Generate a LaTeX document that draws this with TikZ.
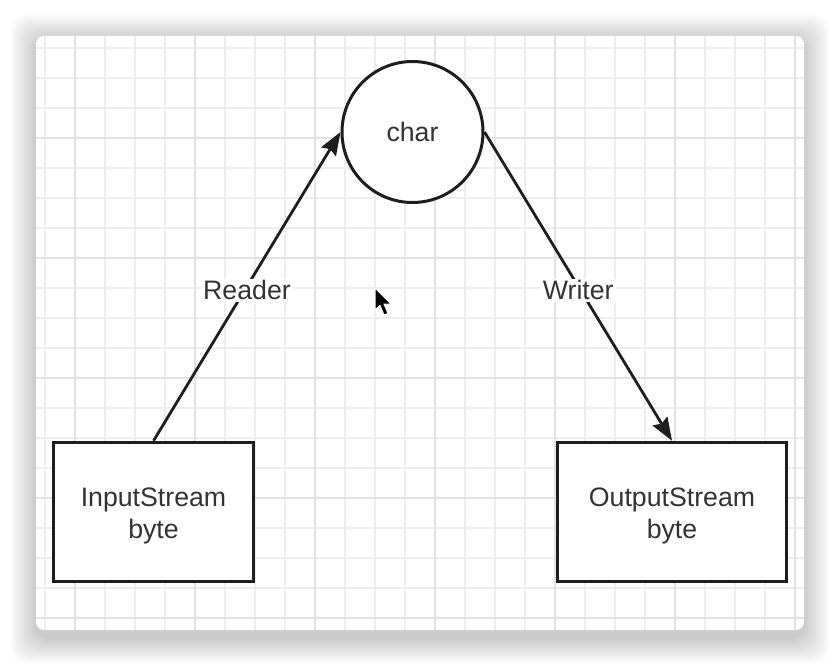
\documentclass[tikz,border=0pt]{standalone}
\usepackage{fontspec}
\setmainfont{Liberation Sans}
\usetikzlibrary{arrows.meta}
\definecolor{gridminor}{HTML}{EEEEEE}
\definecolor{gridmajor}{HTML}{E2E2E2}
\definecolor{txt}{HTML}{333333}
\definecolor{ink}{HTML}{1E1E1E}
\tikzset{
  minorline/.style={draw=gridminor, line width=1.1bp},
  majorline/.style={draw=gridmajor, line width=1.3bp},
  boxnode/.style={draw=ink, line width=3.4bp, fill=white, inner sep=0pt},
  boxtext/.style={align=center, text=txt, font=\fontsize{26.7bp}{32bp}\selectfont, inner sep=0pt},
  circnode/.style={circle, draw=ink, line width=3bp, fill=white, text=txt,
    font=\fontsize{26.7bp}{32bp}\selectfont, inner sep=0pt, minimum size=141bp},
  conn/.style={draw=ink, line width=2.8bp, -{Stealth[length=23bp,width=17bp,inset=3bp]}},
  lbl/.style={fill=white, text=txt, font=\fontsize{26.7bp}{32bp}\selectfont, inner sep=2bp, yshift=-4bp}
}
\begin{document}
\begin{tikzpicture}[x=1bp,y=-1bp]
\useasboundingbox (0,0) rectangle (840,666);
\fill[white] (0,0) rectangle (840,666);
% shadow
\foreach \i in {1,...,26}
  \fill[black, opacity=0.007, rounded corners=16bp] (36-\i,40-\i) rectangle (804+\i,638+\i);
% panel
\fill[white, rounded corners=8bp] (36,36) rectangle (804,630);
\begin{scope}
  \clip[rounded corners=8bp] (36,36) rectangle (804,630);
  \foreach \x in {45,75,...,795} \draw[minorline] (\x,36) -- (\x,630);
  \foreach \y in {48,78,...,618} \draw[minorline] (36,\y) -- (804,\y);
  \foreach \x in {75,195,...,795} \draw[majorline] (\x,36) -- (\x,630);
  \foreach \y in {138,258,...,618} \draw[majorline] (36,\y) -- (804,\y);
\end{scope}
% nodes
\node[circnode] (c) at (412.5,132) {char};
\node[boxnode, minimum width=200bp, minimum height=139bp] (in) at (153.5,512) {};
\node[boxtext] (intext) at ([yshift=-4bp]in.center) {InputStream\\byte};
\node[boxnode, minimum width=229bp, minimum height=139bp] (out) at (672,512) {};
\node[boxtext] (outtext) at ([yshift=-4bp]out.center) {OutputStream\\byte};
% connectors
\draw[conn] (in.north) -- (c.west) node[lbl, pos=0.5] {Reader};
\draw[conn] (c.east) -- (out.north) node[lbl, pos=0.5] {Writer};
% mouse cursor
\filldraw[fill=black, draw=white, line width=1bp, line join=round]
  (375,288) -- (375,310) -- (380,305.5) -- (384,315) -- (388,313.5) -- (384,304) -- (391,304) -- cycle;
\end{tikzpicture}
\end{document}
